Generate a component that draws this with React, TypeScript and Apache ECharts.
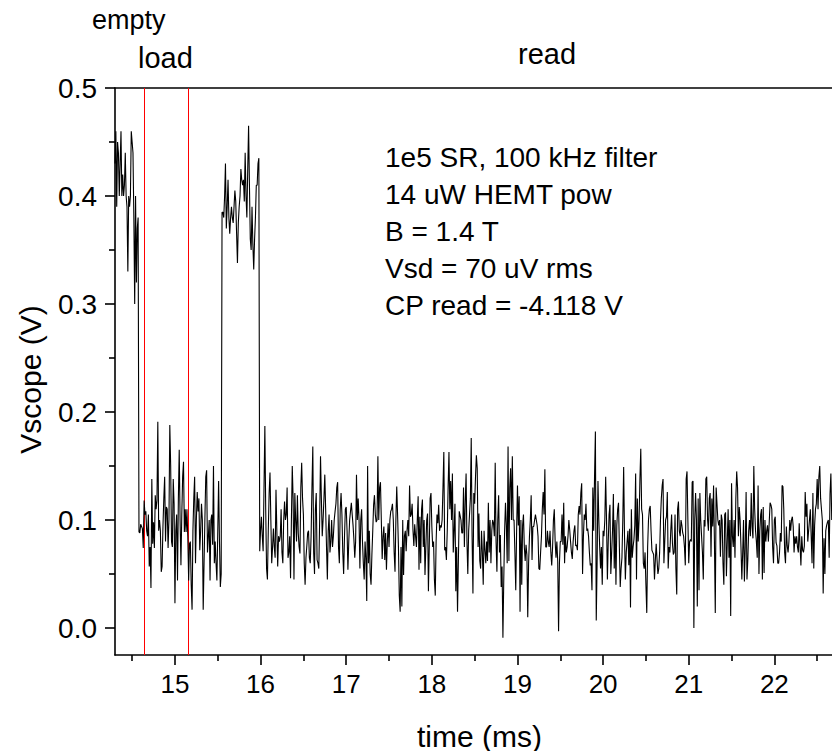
import React, { useEffect, useRef } from "react";
import * as echarts from "echarts";

// Sampling of the scope trace
const T_START = 14.3; // ms
const T_STEP = 0.01; // ms per sample

// Vscope (V), read sample by sample from the trace
const VSCOPE: number[] = [
  // empty (high)
  0.43, 0.46, 0.39, 0.45, 0.44, 0.40, 0.43, 0.46, 0.40, 0.42,
  0.40, 0.41, 0.44, 0.40, 0.39, 0.33, 0.40, 0.39, 0.40, 0.46,
  0.45, 0.44, 0.38, 0.30, 0.40, 0.32, 0.37, 0.38,
  // load (low)
  0.089, 0.088, 0.096, 0.094, 0.092, 0.074, 0.118, 0.105, 0.108, 0.09,
  0.085, 0.105, 0.057, 0.075, 0.037, 0.138, 0.078, 0.098, 0.074, 0.123,
  0.11, 0.118, 0.191, 0.09, 0.1, 0.09, 0.052, 0.057, 0.094, 0.12,
  0.14, 0.08, 0.112, 0.11, 0.074, 0.1, 0.188, 0.151, 0.08, 0.075,
  0.138, 0.115, 0.023, 0.09, 0.105, 0.044, 0.12, 0.165, 0.1, 0.058,
  0.105, 0.14, 0.154, 0.089, 0.11, 0.089, 0.11, 0.085, 0.044, 0.078,
  0.08, 0.04, 0.017, 0.09, 0.12, 0.14, 0.06, 0.1, 0.126, 0.108,
  0.12, 0.072, 0.09, 0.115, 0.1, 0.017, 0.06, 0.102, 0.14, 0.146,
  0.07, 0.085, 0.1, 0.044, 0.1, 0.105, 0.077, 0.15, 0.06, 0.08,
  0.06, 0.044, 0.089, 0.136, 0.08, 0.038, 0.05, 0.385,
  // read (high pulse)
  0.385, 0.38, 0.40, 0.43, 0.37, 0.39, 0.415, 0.38, 0.365, 0.38,
  0.39, 0.38, 0.375, 0.39, 0.405, 0.395, 0.365, 0.338, 0.375, 0.39,
  0.40, 0.425, 0.415, 0.41, 0.415, 0.395, 0.44, 0.40, 0.38, 0.425,
  0.465, 0.41, 0.36, 0.35, 0.39, 0.355, 0.332, 0.36, 0.38, 0.41,
  0.41, 0.43, 0.435,
  // read (low)
  0.071, 0.09, 0.103, 0.085, 0.071, 0.13, 0.187, 0.11, 0.055, 0.045,
  0.09, 0.125, 0.144, 0.1, 0.06, 0.075, 0.092, 0.075, 0.065, 0.128,
  0.09, 0.057, 0.085, 0.08, 0.085, 0.11, 0.07, 0.06, 0.1, 0.117,
  0.1, 0.105, 0.13, 0.065, 0.07, 0.085, 0.046, 0.1, 0.15, 0.12,
  0.045, 0.125, 0.1, 0.08, 0.123, 0.088, 0.075, 0.069, 0.13, 0.153,
  0.12, 0.105, 0.06, 0.04, 0.065, 0.076, 0.088, 0.09, 0.065, 0.06,
  0.085, 0.13, 0.168, 0.07, 0.05, 0.11, 0.125, 0.063, 0.06, 0.055,
  0.1, 0.159, 0.12, 0.085, 0.1, 0.12, 0.142, 0.11, 0.075, 0.045,
  0.09, 0.105, 0.07, 0.08, 0.1, 0.075, 0.085, 0.1, 0.108, 0.115,
  0.13, 0.135, 0.075, 0.06, 0.11, 0.125, 0.105, 0.07, 0.05, 0.085,
  0.11, 0.112, 0.09, 0.054, 0.08, 0.1, 0.108, 0.116, 0.105, 0.095,
  0.082, 0.065, 0.08, 0.142, 0.1, 0.12, 0.1, 0.055, 0.1, 0.11,
  0.08, 0.06, 0.045, 0.08, 0.065, 0.025, 0.15, 0.06, 0.09, 0.05,
  0.04,
  0.068, 0.09, 0.114, 0.123, 0.105, 0.098, 0.1, 0.159, 0.1, 0.13,
  0.135, 0.1, 0.064, 0.085, 0.094, 0.063, 0.088, 0.054, 0.08, 0.097,
  0.075, 0.1, 0.108, 0.11, 0.115, 0.1, 0.07, 0.052, 0.1, 0.131,
  0.105, 0.075, 0.03, 0.015, 0.075, 0.02, 0.1, 0.049, 0.085, 0.09,
  0.071, 0.09, 0.1, 0.085, 0.132, 0.103, 0.105, 0.115, 0.09, 0.076,
  0.096, 0.085, 0.075, 0.1, 0.122, 0.054, 0.103, 0.06, 0.11, 0.119,
  0.075, 0.1, 0.049, 0.075, 0.1, 0.106, 0.034, 0.076, 0.12, 0.125,
  0.094, 0.075, 0.08, 0.045, 0.03, 0.08, 0.105, 0.097, 0.114, 0.09,
  0.095, 0.093, 0.1, 0.13, 0.163, 0.072, 0.075, 0.063, 0.09, 0.13,
  0.163, 0.11, 0.136, 0.1, 0.143, 0.07, 0.09, 0.115, 0.034, 0.075,
  0.015, 0.063, 0.108, 0.104, 0.1, 0.088, 0.088, 0.13, 0.075, 0.117,
  0.143, 0.08, 0.05, 0.09, 0.105, 0.12, 0.176, 0.085, 0.032, 0.125,
  0.115, 0.14, 0.16, 0.148, 0.075, 0.106, 0.062, 0.055, 0.09, 0.07,
  0.04, 0.09, 0.072,
  0.06, 0.08, 0.062, 0.116, 0.07, 0.1, 0.06, 0.09, 0.1, 0.097,
  0.085, 0.153, 0.08, 0.052, 0.1, 0.123, 0.07, 0.086, 0.038, 0.057,
  -0.009, 0.045, 0.09, 0.116, 0.095, 0.06, 0.168, 0.062, 0.13, 0.148,
  0.1, 0.159, 0.1, 0.1, 0.07, 0.035, 0.09, 0.132, 0.095, 0.122,
  0.015, 0.1, 0.04, 0.095, 0.105, 0.075, 0.062, 0.077, 0.068, 0.01,
  0.06, 0.085, 0.1, 0.123, 0.063, 0.094, 0.094, 0.1, 0.105, 0.1,
  0.095, 0.085, 0.055, 0.054, 0.07, 0.085, 0.11, 0.126, 0.105, 0.147,
  0.075, 0.075, 0.09, 0.08, 0.075, 0.09, 0.07, 0.058, 0.075, 0.1,
  0.11, 0.08, 0.065, 0.08, 0.062, -0.003, 0.06, 0.08, 0.08, 0.105,
  0.077, 0.116, 0.06, 0.085, 0.07, 0.075, 0.085, 0.1, 0.091, 0.08,
  0.07, 0.064, 0.08, 0.09, 0.095, 0.076, 0.077, 0.072, 0.105, 0.113,
  0.105, 0.125, 0.134, 0.05, 0.085, 0.105, 0.1, 0.115, 0.09, 0.092,
  0.085, 0.07, 0.058, 0.06, 0.035, 0.13, 0.09, 0.14, 0.182, 0.007,
  0.06, 0.136, 0.1, 0.075, 0.055,
  0.075, 0.04, 0.09, 0.085, 0.1, 0.14, 0.1, 0.045, 0.08, 0.105,
  0.114, 0.05, 0.07, 0.09, 0.124, 0.055, 0.1, 0.04, 0.095, 0.11,
  0.116, 0.075, 0.038, 0.055, 0.065, 0.1, 0.149, 0.085, 0.045, 0.07,
  0.08, 0.09, 0.058, 0.092, 0.019, 0.11, 0.065, 0.075, 0.082, 0.095,
  0.143, 0.045, 0.12, 0.08, 0.1, 0.138, 0.166, 0.11, 0.105, 0.06,
  0.055, 0.07, 0.04, 0.014, 0.075, 0.1, 0.11, 0.113, 0.09, 0.072,
  0.07, 0.068, 0.045, 0.063, 0.078, 0.063, 0.05, 0.055, 0.07, 0.1,
  0.12, 0.132, 0.138, 0.06, 0.08, 0.1, 0.103, 0.126, 0.055, 0.075,
  0.07, 0.09, 0.105, 0.078, 0.068, 0.07, 0.105, 0.055, 0.031, 0.11,
  0.117, 0.09, 0.085, 0.1, 0.095, 0.088, 0.085, 0.075, 0.058, 0.138,
  0.145, 0.1, 0.06, 0.08, 0.082, 0.08, 0.135, 0.136, 0.0, 0.1,
  0.125, 0.1, 0.02, 0.12, 0.035, 0.125, 0.1, 0.085, 0.07, 0.045,
  0.1, 0.094, 0.138, 0.14, 0.1, 0.09, 0.12, 0.125, 0.066, 0.12,
  0.094, 0.132, 0.08, 0.014,
  0.13, 0.115, 0.1, 0.095, 0.1, 0.066, 0.105, 0.1, 0.06, 0.04,
  0.105, 0.107, 0.048, 0.08, 0.11, 0.065, 0.1, 0.011, 0.134, 0.085,
  0.075, 0.1, 0.065, 0.12, 0.145, 0.13, 0.085, 0.112, 0.1, 0.075,
  0.045, 0.07, 0.1, 0.043, 0.075, 0.126, 0.045, 0.063, 0.09, 0.1,
  0.085, 0.125, 0.094, 0.083, 0.15, 0.11, 0.09, 0.08, 0.065, 0.132,
  0.05, 0.09, 0.105, 0.11, 0.045, 0.112, 0.051, 0.1, 0.08, 0.09,
  0.095, 0.08, 0.098, 0.116, 0.114, 0.11, 0.075, 0.06, 0.1, 0.103,
  0.079, 0.076, 0.06, 0.06, 0.07, 0.088, 0.08, 0.132, 0.131, 0.11,
  0.07, 0.06, 0.094, 0.076, 0.07, 0.08, 0.1, 0.09, 0.1, 0.103,
  0.094, 0.07, 0.085, 0.078, 0.085, 0.075, 0.07, 0.097, 0.076, 0.058,
  0.085, 0.072, 0.07, 0.076, 0.126, 0.103, 0.115, 0.08, 0.09, 0.1,
  0.11, 0.085, 0.06, 0.125, 0.055, 0.095, 0.11, 0.115, 0.138, 0.11,
  0.14, 0.15, 0.12, 0.11, 0.1, 0.032, 0.083, 0.05, 0.09, 0.095,
  0.098, 0.1, 0.065, 0.124, 0.143, 0.1,
];

// Axes
const X_MIN = 14.3;
const X_MAX = 23.0;
const Y_MIN = -0.025;
const Y_MAX = 0.5;
const X_MAJOR = [15, 16, 17, 18, 19, 20, 21, 22];
const X_MINOR = [14.5, 15.5, 16.5, 17.5, 18.5, 19.5, 20.5, 21.5, 22.5];
const Y_MAJOR = [0, 0.1, 0.2, 0.3, 0.4, 0.5];
const Y_MINOR = [0.05, 0.15, 0.25, 0.35, 0.45];

// Phase boundaries (ms) and labels
const PHASE_LINES = [14.64, 15.15];
const PHASE_LABELS = ["empty", "load", "read"];
const NOTES = [
  "1e5 SR, 100 kHz filter",
  "14 uW HEMT pow",
  "B = 1.4 T",
  "Vsd = 70 uV rms",
  "CP read = -4.118 V",
];

const FONT = "'Liberation Sans', Arial, Helvetica, sans-serif";

export default function App() {
  const ref = useRef<HTMLDivElement>(null);

  useEffect(() => {
    if (!ref.current) return;
    const chart = echarts.init(ref.current, undefined, { renderer: "svg" });
    const data = VSCOPE.map((v, i) => [
      Math.round((T_START + i * T_STEP) * 1000) / 1000,
      v,
    ]);
    const axisLineStyle = { color: "#000", width: 1.6 };
    const labelStyle = { color: "#000", fontFamily: FONT };

    const textEl = (text: string, x: number, y: number, size = 28) => ({
      type: "text",
      x,
      y,
      silent: true,
      style: {
        text,
        fill: "#000",
        fontSize: size,
        fontFamily: FONT,
        align: "left",
        verticalAlign: "middle",
      },
    });

    chart.setOption({
      animation: false,
      backgroundColor: "#fff",
      grid: {
        left: 115,
        top: 88,
        width: 745,
        height: 567,
        containLabel: false,
        outerBoundsMode: "none",
      },
      xAxis: [
        {
          type: "value",
          min: X_MIN,
          max: X_MAX,
          position: "bottom",
          axisLine: { show: true, onZero: false, lineStyle: axisLineStyle },
          axisTick: {
            show: true,
            inside: false,
            length: 10,
            customValues: X_MAJOR,
            lineStyle: axisLineStyle,
          },
          axisLabel: {
            ...labelStyle,
            fontSize: 26,
            margin: 16,
            customValues: X_MAJOR,
            formatter: (v: number) => String(v),
          },
          splitLine: { show: false },
          name: "time (ms)",
          nameLocation: "middle",
          nameGap: 66,
          nameTextStyle: {
            color: "#000",
            fontSize: 30,
            fontFamily: FONT,
            padding: [0, 16, 0, 0],
          },
        },
        {
          type: "value",
          min: X_MIN,
          max: X_MAX,
          position: "bottom",
          axisLine: { show: false, onZero: false },
          axisTick: {
            show: true,
            inside: false,
            length: 6,
            customValues: X_MINOR,
            lineStyle: axisLineStyle,
          },
          axisLabel: { show: false },
          splitLine: { show: false },
        },
        {
          type: "value",
          min: X_MIN,
          max: X_MAX,
          position: "top",
          axisLine: { show: true, onZero: false, lineStyle: axisLineStyle },
          axisTick: { show: false },
          axisLabel: { show: false },
          splitLine: { show: false },
        },
      ],
      yAxis: [
        {
          type: "value",
          min: Y_MIN,
          max: Y_MAX,
          position: "left",
          axisLine: { show: true, onZero: false, lineStyle: axisLineStyle },
          axisTick: {
            show: true,
            inside: false,
            length: 10,
            customValues: Y_MAJOR,
            lineStyle: axisLineStyle,
          },
          axisLabel: {
            ...labelStyle,
            fontSize: 28,
            margin: 18,
            customValues: Y_MAJOR,
            formatter: (v: number) => v.toFixed(1),
          },
          splitLine: { show: false },
          name: "Vscope (V)",
          nameLocation: "middle",
          nameGap: 70,
          nameRotate: 90,
          nameTextStyle: {
            color: "#000",
            fontSize: 30,
            fontFamily: FONT,
            padding: [0, 16, 0, 0],
          },
        },
        {
          type: "value",
          min: Y_MIN,
          max: Y_MAX,
          position: "left",
          axisLine: { show: false, onZero: false },
          axisTick: {
            show: true,
            inside: false,
            length: 6,
            customValues: Y_MINOR,
            lineStyle: axisLineStyle,
          },
          axisLabel: { show: false },
          splitLine: { show: false },
        },
      ],
      series: [
        {
          type: "line",
          xAxisIndex: 0,
          yAxisIndex: 0,
          data,
          showSymbol: false,
          symbol: "none",
          lineStyle: { color: "#000", width: 1.1 },
          itemStyle: { color: "#000" },
          clip: true,
          z: 3,
          markLine: {
            silent: true,
            symbol: "none",
            label: { show: false },
            lineStyle: { color: "#ff0000", width: 1, type: "solid" },
            data: PHASE_LINES.map((t) => ({ xAxis: t })),
            z: 2,
          },
        },
      ],
      graphic: [
        textEl(PHASE_LABELS[0], 92, 20, 27),
        textEl(PHASE_LABELS[1], 138, 58, 29),
        textEl(PHASE_LABELS[2], 518, 54, 29),
        ...NOTES.map((n, i) => textEl(n, 385, 157 + i * 37)),
      ],
    });
    return () => chart.dispose();
  }, []);

  return (
    <div
      style={{
        position: "fixed",
        left: 0,
        top: 0,
        width: 832,
        height: 751,
        overflow: "hidden",
        background: "#fff",
      }}
    >
      <div ref={ref} style={{ width: 900, height: 751 }} />
    </div>
  );
}
